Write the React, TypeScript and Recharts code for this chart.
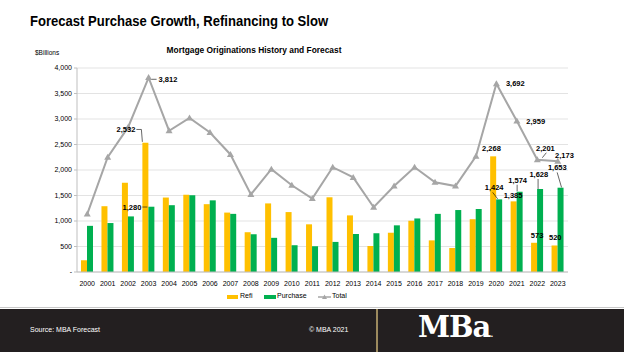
import React from "react";
import {
  ComposedChart, Bar, Line, XAxis, YAxis, CartesianGrid, LabelList,
} from "recharts";

const years = [
  "2000", "2001", "2002", "2003", "2004", "2005", "2006", "2007", "2008", "2009", "2010", "2011",
  "2012", "2013", "2014", "2015", "2016", "2017", "2018", "2019", "2020", "2021", "2022", "2023",
];
const refi = [
  230, 1290, 1750, 2532, 1460, 1515, 1330, 1165, 780, 1345, 1175, 935,
  1465, 1110, 510, 770, 1005, 620, 470, 1035, 2268, 1385, 573, 520,
];
const purchase = [
  905, 960, 1090, 1280, 1310, 1505, 1405, 1140, 740, 670, 525, 505,
  590, 745, 760, 915, 1050, 1140, 1215, 1235, 1424, 1574, 1628, 1653,
];
const total = [
  1135, 2250, 2840, 3812, 2770, 3020, 2735, 2305, 1520, 2015, 1700, 1440,
  2055, 1855, 1270, 1685, 2055, 1760, 1685, 2270, 3692, 2959, 2201, 2173,
];
const yTicks = [0, 500, 1000, 1500, 2000, 2500, 3000, 3500, 4000];

const data = years.map((year, i) => ({
  year, refi: refi[i], purchase: purchase[i], total: total[i],
}));

const REFI = "#FFC000";
const PURCHASE = "#00B050";
const TOTAL = "#A6A6A6";
const FONT = "'Liberation Sans', Arial, sans-serif";

// label placement, relative to bar top centre / line point
type LabelPos = { dx: number; dy: number; anchor: "start" | "middle" | "end"; leader?: number[] };

const refiLabels: Record<string, LabelPos> = {
  "2003": { dx: -10, dy: -13.4, anchor: "end", leader: [-9, -13.4, -4, -13.4, -3, -1] },
  "2020": { dx: -1.7, dy: -7.7, anchor: "middle" },
  "2021": { dx: -10, dy: -6, anchor: "start" },
  "2022": { dx: 3, dy: -7.7, anchor: "middle" },
  "2023": { dx: 0.7, dy: -8, anchor: "middle" },
};
const purchaseLabels: Record<string, LabelPos> = {
  "2003": { dx: -10, dy: 0.3, anchor: "end", leader: [-9, 0.3, -4, 0.3] },
  "2020": { dx: -5, dy: -11.4, anchor: "middle", leader: [-1.5, -0.5, -6.5, -7] },
  "2021": { dx: -2, dy: -11.3, anchor: "middle", leader: [-2.5, -7, -2.5, -0.5] },
  "2022": { dx: -1.3, dy: -14.4, anchor: "middle", leader: [-2, -10, -2, 0] },
  "2023": { dx: -3.2, dy: -19.7, anchor: "middle", leader: [-3.4, -15.3, 1, -0.3] },
};
const totalLabels: Record<string, LabelPos> = {
  "2003": { dx: 10, dy: 2.4, anchor: "start", leader: [3, 1.7, 8, 1.7] },
  "2020": { dx: 9.5, dy: 0, anchor: "start" },
  "2021": { dx: 9.5, dy: 0, anchor: "start" },
  "2022": { dx: -1.3, dy: -11.7, anchor: "start", leader: [5, -2, 9, -7] },
  "2023": { dx: -2.7, dy: -5.4, anchor: "start" },
};

const makeLabel = (table: Record<string, LabelPos>) => (props: any) => {
  const vb = props.viewBox || {};
  const x = props.x ?? vb.x;
  const y = props.y ?? vb.y;
  const w = props.width ?? vb.width ?? 0;
  const idx = props.index;
  const pos = table[years[idx]];
  if (!pos || x == null || y == null) return null;
  const cx = x + w / 2;
  const l = pos.leader;
  let path = "";
  if (l) {
    for (let k = 0; k < l.length; k += 2) {
      path += (k === 0 ? "M" : "L") + (cx + l[k]) + " " + (y + l[k + 1]) + " ";
    }
  }
  return (
    <g>
      {l && <path d={path} stroke="#000" strokeWidth={0.6} fill="none" />}
      <text
        x={cx + pos.dx}
        y={y + pos.dy}
        textAnchor={pos.anchor}
        dominantBaseline="central"
        fontSize={7.5}
        fontWeight={700}
        fontFamily={FONT}
        fill="#000"
      >
        {Number(props.value).toLocaleString("en-US")}
      </text>
    </g>
  );
};

const Triangle = (props: any) => {
  const { cx, cy } = props;
  if (cx == null || cy == null) return null;
  return <polygon points={`${cx},${cy - 3.5} ${cx + 3.5},${cy + 2.5} ${cx - 3.5},${cy + 2.5}`} fill={TOTAL} />;
};

export default function App() {
  return (
    <div style={{ position: "fixed", left: 0, top: 0, width: 624, height: 352, background: "#fff", overflow: "hidden", fontFamily: FONT }}>
      <div style={{ position: "absolute", left: 30, top: 12, fontSize: 15, fontWeight: 700, color: "#000", whiteSpace: "nowrap", transform: "scaleX(0.87)", transformOrigin: "left top" }}>
        Forecast Purchase Growth, Refinancing to Slow
      </div>
      <div style={{ position: "absolute", left: 0, width: 508, top: 45, textAlign: "center", fontSize: 9, fontWeight: 700, color: "#000", transform: "scaleX(0.93)", transformOrigin: "254px 0" }}>
        Mortgage Originations History and Forecast
      </div>
      <div style={{ position: "absolute", left: 35, top: 49, fontSize: 6.5, color: "#000" }}>$Billions</div>

      <div style={{ position: "absolute", left: 0, top: 0 }}>
        <ComposedChart
          width={624}
          height={300}
          data={data}
          margin={{ top: 68, right: 56, left: 37, bottom: 8 }}
          barGap={0}
        >
          <CartesianGrid vertical={false} stroke="#E3E3E3" />
          <XAxis
            dataKey="year"
            height={20}
            interval={0}
            axisLine={{ stroke: "#BFBFBF" }}
            tickLine={false}
            tick={{ fontSize: 7, fill: "#000", fontFamily: FONT }}
            tickMargin={3}
          />
          <YAxis
            width={40}
            domain={[0, 4000]}
            ticks={yTicks}
            interval={0}
            axisLine={{ stroke: "#BFBFBF" }}
            tickLine={{ stroke: "#BFBFBF" }}
            tickSize={3}
            tick={{ fontSize: 7, fill: "#000", fontFamily: FONT }}
            tickFormatter={(v: number) => (v === 0 ? "-" : v.toLocaleString("en-US"))}
          />
          <Bar dataKey="refi" fill={REFI} barSize={6} isAnimationActive={false}>
            <LabelList dataKey="refi" content={makeLabel(refiLabels)} />
          </Bar>
          <Bar dataKey="purchase" fill={PURCHASE} barSize={6} isAnimationActive={false}>
            <LabelList dataKey="purchase" content={makeLabel(purchaseLabels)} />
          </Bar>
          <Line
            dataKey="total"
            stroke={TOTAL}
            strokeWidth={2}
            dot={<Triangle />}
            activeDot={false}
            isAnimationActive={false}
          >
            <LabelList dataKey="total" content={makeLabel(totalLabels)} />
          </Line>
        </ComposedChart>
      </div>

      {/* legend */}
      <div style={{ position: "absolute", top: 292, left: 0, width: 624, height: 10, fontSize: 7, color: "#000" }}>
        <div style={{ position: "absolute", left: 227, top: 3, width: 11, height: 4, background: REFI }} />
        <div style={{ position: "absolute", left: 240, top: 0 }}>Refi</div>
        <div style={{ position: "absolute", left: 264, top: 3, width: 12, height: 4, background: PURCHASE }} />
        <div style={{ position: "absolute", left: 277, top: 0 }}>Purchase</div>
        <svg style={{ position: "absolute", left: 318, top: 0 }} width={13} height={10}>
          <line x1={0} y1={5} x2={13} y2={5} stroke={TOTAL} strokeWidth={1.5} />
          <polygon points="6.5,2.5 9,7 4,7" fill={TOTAL} />
        </svg>
        <div style={{ position: "absolute", left: 332, top: 0 }}>Total</div>
      </div>

      {/* footer */}
      <div style={{ position: "absolute", left: 0, top: 307, width: 624, height: 1, background: "#C8C8C8" }} />
      <div style={{ position: "absolute", left: 0, top: 309, width: 624, height: 43, background: "#231F20" }}>
        <div style={{ position: "absolute", left: 30, top: 17, fontSize: 7, color: "#fff" }}>Source: MBA Forecast</div>
        <div style={{ position: "absolute", left: 309, top: 17, fontSize: 7, color: "#fff" }}>© MBA 2021</div>
        <div style={{ position: "absolute", left: 376, top: 0, width: 2, height: 43, background: "#9C8A5E" }} />
        <div style={{ position: "absolute", left: 418, top: 1, fontSize: 29, fontWeight: 700, color: "#fff", fontFamily: "'DejaVu Serif', serif", letterSpacing: -1 }}>
          MBa<span style={{ fontSize: 8 }}>.</span>
        </div>
      </div>
    </div>
  );
}
